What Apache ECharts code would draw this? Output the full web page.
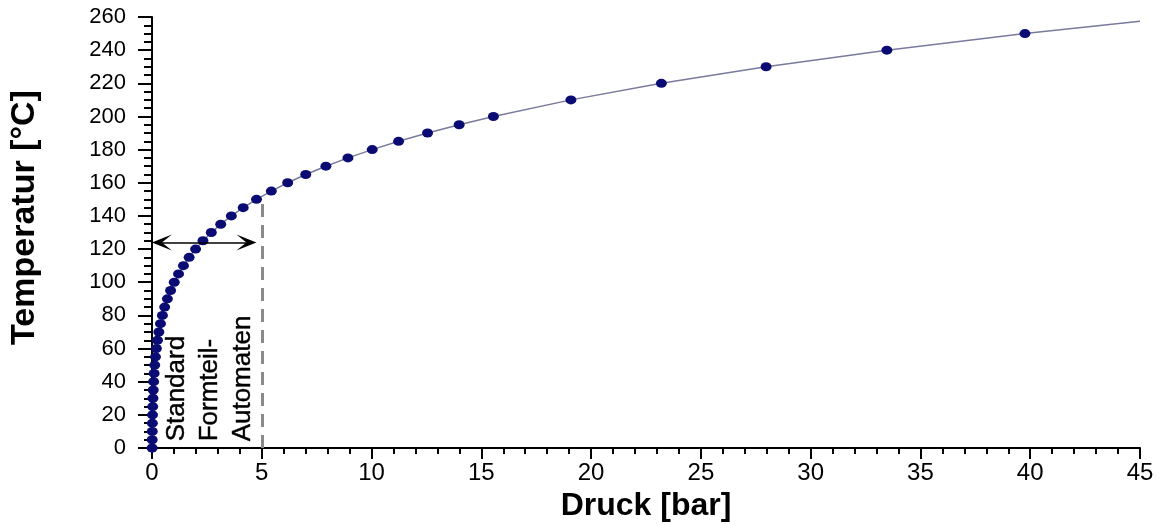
<!DOCTYPE html>
<html>
<head>
<meta charset="utf-8">
<script src="https://cdn.jsdelivr.net/npm/echarts@6/dist/echarts.min.js"></script>
<style>
html,body{margin:0;padding:0;background:#fff;}
#chart{width:1160px;height:524px;}
</style>
</head>
<body>
<div id="chart"></div>
<script>
// Saturated steam: temperature [°C] and pressure [bar]
const temperatureC = [0,5,10,15,20,25,30,35,40,45,50,55,60,65,70,75,80,85,90,95,100,105,110,115,120,125,130,135,140,145,150,155,160,165,170,175,180,185,190,195,200,210,220,230,240,250];
const pressureBar = [0.006,0.009,0.012,0.017,0.023,0.032,0.042,0.056,0.074,0.096,0.124,0.158,0.199,0.250,0.312,0.386,0.474,0.578,0.701,0.846,1.013,1.208,1.433,1.691,1.985,2.321,2.701,3.130,3.614,4.154,4.760,5.435,6.180,7.003,7.920,8.925,10.03,11.23,12.55,13.99,15.55,19.08,23.20,27.97,33.47,39.76];
const curveEnd = [45, 257.4];           // line continues to the right edge (no marker)
const xTicks = {min: 0, max: 45, step: 5};
const yTicks = {min: 0, max: 260, step: 20};
const rangeArrowT = 124;                // double arrow height [°C]
const rangeArrowP = [0.45, 4.3];        // double arrow extent [bar] (arrow-head centres)
const rangeLimitP = 5;                  // dashed limit [bar]
const rangeLimitTopT = 148;
const annotations = [
  {p: 1.15, t: 4, text: 'Standard'},
  {p: 2.65, t: 4, text: 'Formteil-'},
  {p: 4.12, t: 4, text: 'Automaten'}
];

const FONT = '"Liberation Sans", Arial, Helvetica, sans-serif';
const curveData = pressureBar.map((p, i) => [p, temperatureC[i]]);
curveData.push({value: curveEnd, symbol: 'none'});

// chevron arrow head, pointing up (ECharts rotates it along the line)
const chevron = 'path://M10,0 L20,20 L10,10 L0,20 Z';

const chart = echarts.init(document.getElementById('chart'), null, {renderer: 'canvas'});
chart.setOption({
  backgroundColor: '#ffffff',
  animation: false,
  grid: {left: 152, right: 20, top: 17, bottom: 76, containLabel: false, outerBoundsMode: 'none'},
  xAxis: {
    type: 'value', min: xTicks.min, max: xTicks.max, interval: xTicks.step,
    name: 'Druck [bar]', nameLocation: 'middle', nameGap: 42,
    nameTextStyle: {fontFamily: FONT, fontSize: 32, fontWeight: 'bold', color: '#000'},
    axisLine: {show: true, lineStyle: {color: '#000', width: 2}},
    axisTick: {show: true, inside: false, length: 11, lineStyle: {color: '#000', width: 2}},
    minorTick: {show: true, splitNumber: 5, length: 6, lineStyle: {color: '#000', width: 2}},
    axisLabel: {fontFamily: FONT, fontSize: 24, color: '#000', margin: 13},
    splitLine: {show: false}
  },
  yAxis: {
    type: 'value', min: yTicks.min, max: yTicks.max, interval: yTicks.step,
    name: 'Temperatur [°C]', nameLocation: 'middle', nameGap: 110,
    nameTextStyle: {fontFamily: FONT, fontSize: 34, fontWeight: 'bold', color: '#000', padding: [0, 0, 0, 30]},
    axisLine: {show: true, lineStyle: {color: '#000', width: 2}},
    axisTick: {show: true, inside: false, length: 14, lineStyle: {color: '#000', width: 2}},
    minorTick: {show: true, splitNumber: 4, length: 8, lineStyle: {color: '#000', width: 2}},
    axisLabel: {fontFamily: FONT, fontSize: 22, color: '#000', margin: 26},
    splitLine: {show: false}
  },
  series: [
    {
      type: 'line',
      data: curveData,
      smooth: false,
      symbol: 'circle',
      symbolSize: [11, 9],
      showAllSymbol: true,
      itemStyle: {color: '#0b0b74'},
      lineStyle: {color: '#7a7a9c', width: 1.5},
      z: 3,
      markLine: {
        silent: true,
        animation: false,
        label: {show: false},
        itemStyle: {color: '#000'},
        lineStyle: {color: '#000', opacity: 1},
        data: [
          [
            {coord: [rangeArrowP[0], rangeArrowT], symbol: chevron, symbolSize: [16, 20],
             itemStyle: {color: '#000'},
             lineStyle: {color: '#000', width: 1.6, type: 'solid', opacity: 1}},
            {coord: [rangeArrowP[1], rangeArrowT], symbol: chevron, symbolSize: [16, 20],
             itemStyle: {color: '#000'}}
          ],
          [
            {coord: [rangeLimitP, 0], symbol: 'none',
             lineStyle: {color: '#8a8a8a', width: 3, type: [13, 8], opacity: 1}},
            {coord: [rangeLimitP, rangeLimitTopT], symbol: 'none'}
          ]
        ]
      }
    },
    {
      type: 'scatter',
      data: annotations.map(a => ({value: [a.p, a.t], name: a.text})),
      symbolSize: 0,
      silent: true,
      z: 4,
      itemStyle: {opacity: 1},
      label: {
        show: true,
        position: 'inside',
        rotate: 90,
        align: 'left',
        verticalAlign: 'middle',
        formatter: p => p.name,
        fontFamily: FONT,
        fontSize: 26,
        color: '#000000',
        opacity: 1,
        textBorderColor: '#000000',
        textBorderWidth: 0.4
      }
    }
  ]
});
</script>
</body>
</html>
